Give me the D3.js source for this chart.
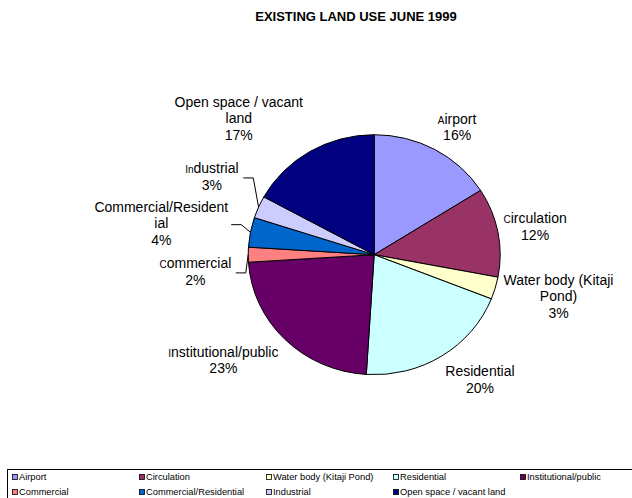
<!DOCTYPE html>
<html>
<head>
<meta charset="utf-8">
<script src="https://cdn.jsdelivr.net/npm/d3@7"></script>
<style>
body { margin: 0; background: #fff; }
text { font-family: Arial, "Liberation Sans", sans-serif; fill: #000; }
</style>
</head>
<body>
<svg id="chart" width="632" height="498"></svg>
<script>
var title = "EXISTING LAND USE JUNE 1999"
var categories = ["Airport", "Circulation", "Water body (Kitaji Pond)", "Residential", "Institutional/public",
    "Commercial", "Commercial/Residential", "Industrial", "Open space / vacant land"]
var shares = [16, 12, 3, 20, 23, 2, 4, 3, 17]
var colors = ["#9999ff", "#993366", "#ffffcc", "#ccffff", "#660066", "#ff8080", "#0066cc", "#ccccff", "#000080"]
// the source render shrank the first letter(s) of some labels
var smallLead = [1, 1, 0, 0, 1, 1, 0, 2, 0]
var withLeader = ["Commercial", "Commercial/Residential", "Industrial"]
// nudges away from the default label spot (1.3 x radius)
var labelShift = [[4, 9], [0, 1], [27, -2], [18, -7], [-35, -5], [-15, 17], [-52, -2], [-12, -16], [-52, -2]]

var width = 632,
    height = 498,
    cx = 374.2,
    cy = 254.7,
    rx = 126,
    ry = 120,
    fs = 14,
    lh = 16.7

var svg = d3.select('#chart')

svg.append('text')
    .attr('x', 356)
    .attr('y', 20.5)
    .attr('text-anchor', 'middle')
    .attr('font-size', '13px')
    .attr('font-weight', 700)
    .text(title)

var data = categories.map(function(c, i) { return { name: c, value: shares[i] } })
var total = d3.sum(data, d => d.value)

var color = d3.scaleOrdinal()
    .domain(categories)
    .range(colors)

var pie = d3.pie()
    .sort(null)
    .value(d => d.value)
var arcs = pie(data)

var arc = d3.arc()
    .innerRadius(0)
    .outerRadius(rx)

// the pie is a little squashed in the original, so scale it in y
var pieArea = svg.append('g')
    .attr('transform', 'translate(' + cx + ',' + cy + ') scale(1,' + (ry / rx) + ')')

pieArea.selectAll('.slice')
    .data(arcs)
    .enter()
    .append('path')
    .attr('class', 'slice')
    .attr('d', arc)
    .attr('fill', d => color(d.data.name))
    .attr('stroke', '#000')
    .attr('stroke-width', 1)
    .attr('vector-effect', 'non-scaling-stroke')

function edge(a, k) {
    return [cx + rx * k * Math.sin(a), cy - ry * k * Math.cos(a)]
}

// text measuring, for wrapping labels like excel does
var measure = svg.append('text').attr('font-size', fs + 'px').attr('visibility', 'hidden')
function textWidth(s) {
    measure.text(s)
    return measure.node().getComputedTextLength()
}
function wrap(s, maxW) {
    var words = s.split(' '), lines = [], cur = ''
    words.forEach(function(w) {
        var test = cur ? cur + ' ' + w : w
        if (textWidth(test) <= maxW) { cur = test; return }
        if (cur) lines.push(cur)
        while (textWidth(w) > maxW) {
            var k = w.length
            while (k > 1 && textWidth(w.slice(0, k)) > maxW) k--
            lines.push(w.slice(0, k))
            w = w.slice(k)
        }
        cur = w
    })
    if (cur) lines.push(cur)
    return lines
}

var labels = svg.append('g')
arcs.forEach(function(d, i) {
    var mid = (d.startAngle + d.endAngle) / 2
    var p = edge(mid, 1.3)
    var lx = p[0] + labelShift[i][0],
        ly = p[1] + labelShift[i][1]
    var lines = wrap(d.data.name, 135)
    lines.push(Math.round(d.value / total * 100) + '%')
    var top = ly - (lines.length - 1) * lh / 2 + 5
    var t = labels.append('text')
        .attr('text-anchor', 'middle')
        .attr('font-size', fs + 'px')
    var maxW = 0
    lines.forEach(function(line, j) {
        maxW = Math.max(maxW, textWidth(line))
        if (j == 0 && smallLead[i] > 0) {
            var tl = t.append('tspan').attr('x', lx).attr('y', top)
            tl.append('tspan').attr('font-size', '10px').text(line.slice(0, smallLead[i]))
            tl.append('tspan').text(line.slice(smallLead[i]))
        } else {
            t.append('tspan').attr('x', lx).attr('y', top + j * lh).text(line)
        }
    })
    if (withLeader.indexOf(d.data.name) > -1) {
        var x0 = lx + maxW / 2 + 3,
            y0 = ly + 1.2
        var e = edge(mid, 1)
        labels.append('path')
            .attr('d', d3.line()([[x0, y0], [x0 + 10, y0], e]))
            .attr('fill', 'none')
            .attr('stroke', '#000')
            .attr('stroke-width', 1)
    }
})
measure.remove()

// legend along the bottom, five per row
var legend = svg.append('g')
legend.append('rect')
    .attr('x', 7.5)
    .attr('y', 469.5)
    .attr('width', 640)
    .attr('height', 40)
    .attr('fill', '#fff')
    .attr('stroke', '#000')

data.forEach(function(d, i) {
    var col = i % 5,
        row = Math.floor(i / 5)
    var g = legend.append('g')
        .attr('transform', 'translate(' + (12.5 + col * 127) + ',' + (477 + row * 15) + ')')
    g.append('rect')
        .attr('x', 0)
        .attr('y', -2.5)
        .attr('width', 5)
        .attr('height', 5)
        .attr('fill', color(d.name))
        .attr('stroke', '#000')
        .attr('stroke-width', 0.8)
    g.append('text')
        .attr('x', 6.5)
        .attr('y', 3.3)
        .attr('font-size', '9.3px')
        .text(d.name)
})
</script>
</body>
</html>
